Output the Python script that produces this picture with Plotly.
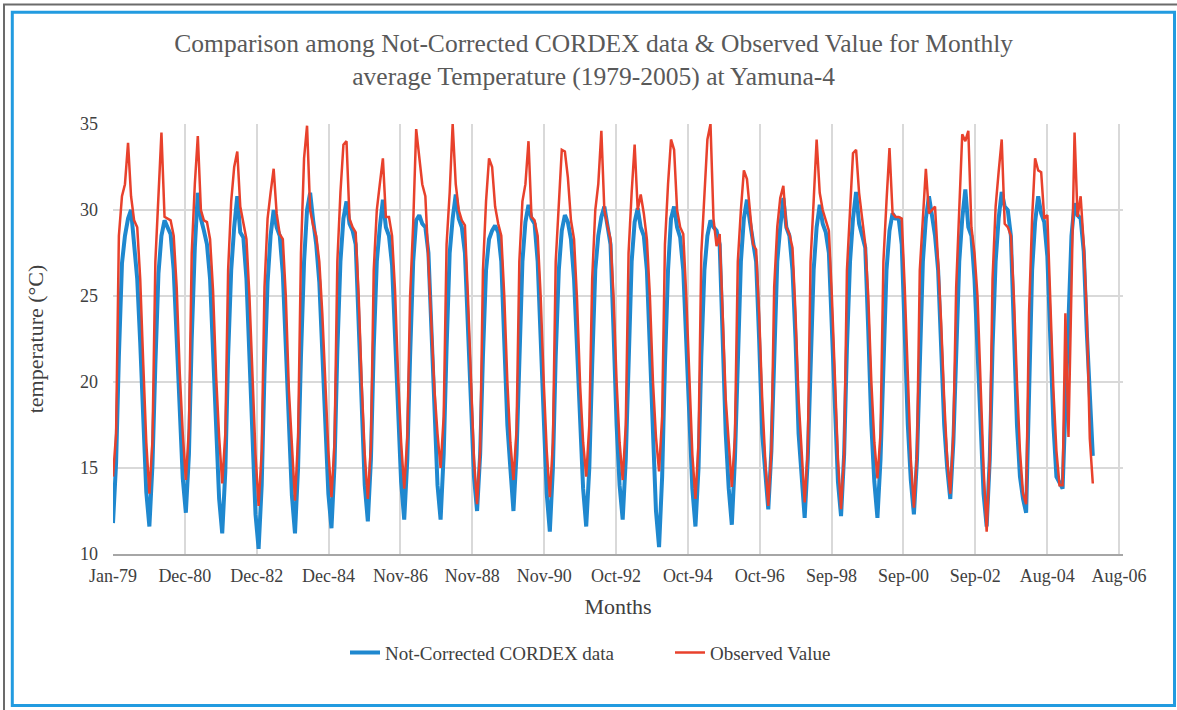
import pandas as pd
import plotly.graph_objects as go

# ---------------- data ----------------
months = pd.date_range("1979-01-01", periods=324, freq="MS")

cordex = [
    11.8, 15.3, 21.5, 26.9, 28.5, 29.5, 30.0, 28.2, 26.0, 22.3, 17.5, 13.6,  # 1979
    11.6, 15.2, 21.0, 26.3, 28.5, 29.4, 29.0, 28.6, 26.5, 22.5, 17.5, 14.4,  # 1980
    12.4, 15.8, 22.5, 27.8, 31.0, 29.5, 28.8, 28.0, 26.0, 22.0, 17.0, 13.2,  # 1981
    11.2, 14.8, 21.5, 26.5, 29.0, 30.8, 28.7, 28.4, 26.0, 21.8, 16.5, 12.3,  # 1982
    10.3, 14.0, 20.5, 25.8, 28.5, 30.0, 29.0, 28.5, 26.3, 22.0, 17.0, 13.4,  # 1983
    11.2, 15.0, 21.5, 27.0, 30.0, 31.0, 29.4, 28.0, 25.8, 22.0, 17.0, 13.5,  # 1984
    11.5, 15.2, 21.8, 27.0, 29.5, 30.5, 29.2, 28.8, 28.0, 23.0, 17.5, 14.0,  # 1985
    11.9, 15.5, 22.0, 27.0, 29.0, 30.6, 29.0, 28.5, 26.8, 22.8, 17.8, 14.2,  # 1986
    12.0, 15.5, 21.5, 27.0, 29.4, 29.7, 29.2, 29.0, 27.5, 23.0, 17.5, 14.0,  # 1987
    12.0, 15.8, 22.0, 27.5, 29.5, 30.9, 29.5, 29.0, 27.5, 23.0, 17.5, 14.5,  # 1988
    12.5, 15.8, 21.5, 26.5, 28.3, 28.8, 29.1, 28.7, 27.0, 22.5, 17.5, 15.0,  # 1989
    12.5, 15.8, 22.0, 27.0, 29.3, 30.3, 29.5, 29.2, 27.0, 22.5, 17.0, 13.5,  # 1990
    11.3, 15.0, 21.5, 26.5, 28.8, 29.7, 29.3, 28.3, 26.0, 21.8, 16.8, 13.8,  # 1991
    11.6, 15.0, 21.0, 26.5, 28.5, 29.6, 30.2, 29.0, 28.0, 23.0, 17.5, 14.0,  # 1992
    12.0, 15.5, 22.0, 27.0, 29.3, 30.1, 29.0, 28.5, 26.5, 22.0, 16.5, 12.5,  # 1993
    10.4, 14.5, 21.0, 26.5, 29.5, 30.2, 29.0, 28.4, 26.5, 22.0, 17.0, 13.8,  # 1994
    11.6, 15.0, 21.5, 26.5, 28.5, 29.4, 29.0, 28.8, 28.0, 23.0, 17.0, 13.8,  # 1995
    11.7, 15.5, 21.5, 27.0, 29.5, 30.6, 29.3, 28.0, 27.0, 22.5, 17.0, 14.8,  # 1996
    12.6, 16.0, 22.0, 27.0, 29.0, 30.7, 29.0, 28.5, 26.5, 22.5, 17.0, 14.3,  # 1997
    12.1, 15.5, 21.5, 26.5, 29.0, 30.3, 29.2, 28.7, 27.5, 23.0, 17.5, 14.2,  # 1998
    12.2, 15.8, 22.0, 27.0, 29.5, 31.05, 29.2, 28.5, 27.8, 23.0, 17.5, 14.2, # 1999
    12.1, 15.5, 21.5, 26.5, 28.8, 29.8, 29.5, 29.5, 28.0, 23.0, 17.5, 14.3,  # 2000
    12.3, 15.5, 22.0, 27.0, 29.5, 30.8, 29.7, 28.5, 26.5, 22.5, 17.5, 15.0,  # 2001
    13.2, 16.5, 22.0, 27.0, 29.5, 31.2, 29.0, 28.5, 26.0, 22.0, 17.0, 13.5,  # 2002
    11.6, 15.5, 22.0, 27.0, 29.5, 31.05, 30.2, 30.0, 28.5, 23.0, 17.5, 14.5, # 2003
    13.2, 12.4, 20.5, 26.5, 29.3, 30.8, 29.8, 29.3, 27.3, 22.5, 17.5, 14.5,  # 2004
    14.2, 13.8, 18.5, 24.5, 28.5, 30.4, 29.7, 29.5, 27.6, 23.0, 19.5, 15.7,  # 2005
]

observed = [
    14.5, 17.0, 28.5, 30.8, 31.5, 33.9, 30.8, 29.4, 29.0, 26.0, 21.0, 16.5,  # 1979
    13.5, 16.6, 27.0, 30.5, 34.5, 29.6, 29.5, 29.4, 28.5, 25.5, 20.5, 17.0,  # 1980
    14.3, 17.3, 27.5, 31.5, 34.3, 30.0, 29.4, 29.3, 28.3, 25.3, 20.3, 16.8,  # 1981
    14.1, 17.0, 26.5, 30.5, 32.5, 33.4, 30.2, 29.3, 28.3, 25.0, 19.8, 15.8,  # 1982
    12.8, 16.0, 25.5, 29.5, 31.0, 32.4, 29.8, 28.6, 28.3, 25.0, 19.5, 16.0,  # 1983
    13.1, 16.8, 27.5, 33.0, 34.9, 30.0, 29.1, 28.5, 27.0, 24.0, 19.5, 16.0,  # 1984
    13.3, 16.5, 27.0, 31.0, 33.8, 34.0, 29.5, 29.0, 28.7, 25.0, 19.8, 15.8,  # 1985
    13.2, 16.3, 26.5, 30.0, 31.5, 33.0, 29.6, 29.6, 28.5, 25.3, 20.3, 16.5,  # 1986
    13.8, 16.8, 25.0, 29.2, 34.7, 32.9, 31.5, 30.8, 27.0, 23.5, 19.5, 17.0,  # 1987
    15.0, 18.0, 28.0, 31.0, 35.0, 31.5, 30.0, 29.4, 29.1, 25.0, 19.5, 15.5,  # 1988
    12.9, 16.0, 26.5, 30.5, 33.0, 32.5, 30.2, 29.2, 28.5, 25.0, 20.0, 16.5,  # 1989
    14.3, 17.2, 27.0, 30.5, 31.5, 34.0, 29.6, 29.4, 28.5, 25.0, 20.0, 16.0,  # 1990
    13.3, 16.5, 27.0, 30.5, 33.5, 33.4, 31.9, 29.4, 28.3, 24.8, 19.8, 16.5,  # 1991
    14.5, 17.5, 26.0, 30.0, 31.5, 34.6, 30.0, 29.1, 28.3, 25.0, 20.0, 16.5,  # 1992
    14.3, 17.5, 27.5, 31.0, 33.8, 30.0, 30.9, 29.8, 28.3, 25.0, 20.0, 16.8,  # 1993
    14.8, 18.0, 28.0, 31.5, 34.1, 33.5, 30.0, 29.0, 28.6, 25.0, 19.8, 15.8,  # 1994
    13.2, 16.5, 27.5, 30.5, 34.1, 35.0, 29.5, 27.9, 28.6, 24.0, 19.0, 16.5,  # 1995
    13.9, 16.8, 27.0, 30.0, 32.3, 31.8, 30.0, 28.0, 27.7, 24.0, 19.0, 15.5,  # 1996
    12.8, 16.0, 25.5, 29.0, 30.7, 31.4, 29.0, 28.6, 27.8, 24.0, 19.0, 15.8,  # 1997
    13.0, 16.0, 27.0, 30.5, 34.1, 31.0, 30.0, 29.4, 28.8, 25.0, 19.5, 15.5,  # 1998
    12.6, 15.8, 26.5, 30.0, 33.3, 33.5, 31.0, 29.5, 28.0, 25.0, 20.0, 16.5,  # 1999
    14.4, 17.0, 27.0, 30.5, 33.6, 29.8, 29.6, 29.6, 29.5, 25.5, 20.0, 15.5,  # 2000
    12.7, 15.8, 26.5, 29.5, 32.4, 29.8, 30.0, 30.2, 27.0, 23.5, 19.0, 15.5,  # 2001
    13.5, 17.0, 25.5, 29.8, 34.4, 34.0, 34.6, 29.0, 27.5, 25.0, 20.0, 15.0,  # 2002
    11.3, 15.5, 26.0, 30.2, 32.2, 34.1, 29.2, 29.0, 28.5, 25.0, 20.0, 16.0,  # 2003
    13.5, 12.9, 24.0, 29.5, 33.0, 32.3, 32.2, 29.5, 29.7, 24.5, 19.5, 16.0,  # 2004
    14.0, 14.0, 24.0, 16.8, 26.5, 34.5, 29.6, 30.8, 28.0, 24.1, 16.7, 14.1,  # 2005
]

tick_labels = ["Jan-79", "Dec-80", "Dec-82", "Dec-84", "Nov-86", "Nov-88", "Nov-90",
               "Oct-92", "Oct-94", "Oct-96", "Sep-98", "Sep-00", "Sep-02", "Aug-04", "Aug-06"]
y_ticks = [10, 15, 20, 25, 30, 35]

# ---------------- axis scale settings ----------------
start = pd.Timestamp("1979-01-01")
tick_step_days = 721
tick_dates = [start + pd.Timedelta(days=tick_step_days * k) for k in range(len(tick_labels))]
x_end = start + pd.Timedelta(days=10134)

W, H = 1177, 710
L, R, T, B = 113, 1123, 124, 554
PW, PH = R - L, B - T


def px(x):
    return (x - L) / PW


def py(y):
    return (B - y) / PH


SERIF = "'Liberation Serif', 'Times New Roman', Times, serif"

fig = go.Figure()
fig.add_trace(go.Scatter(
    x=months, y=cordex, mode="lines", name="Not-Corrected CORDEX data",
    line=dict(color="#1f88cf", width=4)))
fig.add_trace(go.Scatter(
    x=months, y=observed, mode="lines", name="Observed Value",
    line=dict(color="#e8412c", width=2.5)))

fig.update_layout(
    width=W, height=H,
    margin=dict(l=L, r=W - R, t=T, b=H - B, pad=0),
    paper_bgcolor="white", plot_bgcolor="white",
    font=dict(family=SERIF, color="#404040"),
    title=dict(
        text="Comparison among Not-Corrected CORDEX data & Observed Value for Monthly<br>"
             "average Temperature (1979-2005) at Yamuna-4",
        x=593.7 / W, xanchor="center", xref="container",
        y=1 - 52 / H, yanchor="top", yref="container",
        font=dict(family=SERIF, size=25.5, color="#595959")),
    showlegend=True,
    legend=dict(
        orientation="h", xref="container", yref="container",
        x=345 / W, xanchor="left", y=1 - 652.7 / H, yanchor="middle",
        font=dict(family=SERIF, size=19, color="#404040"),
        entrywidth=280, entrywidthmode="pixels",
        bgcolor="rgba(0,0,0,0)", borderwidth=0),
    hovermode=False,
    xaxis=dict(
        type="date", range=[start, x_end],
        tickmode="array", tickvals=tick_dates, ticktext=tick_labels,
        showgrid=True, gridcolor="#d9d9d9", gridwidth=2,
        showline=True, linecolor="#a6a6a6", linewidth=2,
        zeroline=False, ticks="", ticklabelstandoff=4,
        tickfont=dict(family=SERIF, size=18, color="#404040"),
        title=dict(text="Months", standoff=14,
                   font=dict(family=SERIF, size=22, color="#404040"))),
    yaxis=dict(
        range=[10, 35], tickmode="array", tickvals=y_ticks,
        showgrid=True, gridcolor="#d9d9d9", gridwidth=2,
        showline=False, zeroline=False, ticks="", ticklabelstandoff=14,
        tickfont=dict(family=SERIF, size=18, color="#404040"),
        title=dict(text="temperature (°C)", standoff=30,
                   font=dict(family=SERIF, size=22, color="#404040"))),
    shapes=[
        dict(type="rect", xref="paper", yref="paper",
             x0=px(4), x1=px(1182), y0=py(716), y1=py(4.5),
             line=dict(color="#6b6b6b", width=2), fillcolor="rgba(0,0,0,0)", layer="above"),
        dict(type="rect", xref="paper", yref="paper",
             x0=px(12.3), x1=px(1174.5), y0=py(705.5), y1=py(12.3),
             line=dict(color="#229be0", width=3), fillcolor="rgba(0,0,0,0)", layer="above"),
    ],
)

fig.write_html("out.html")
